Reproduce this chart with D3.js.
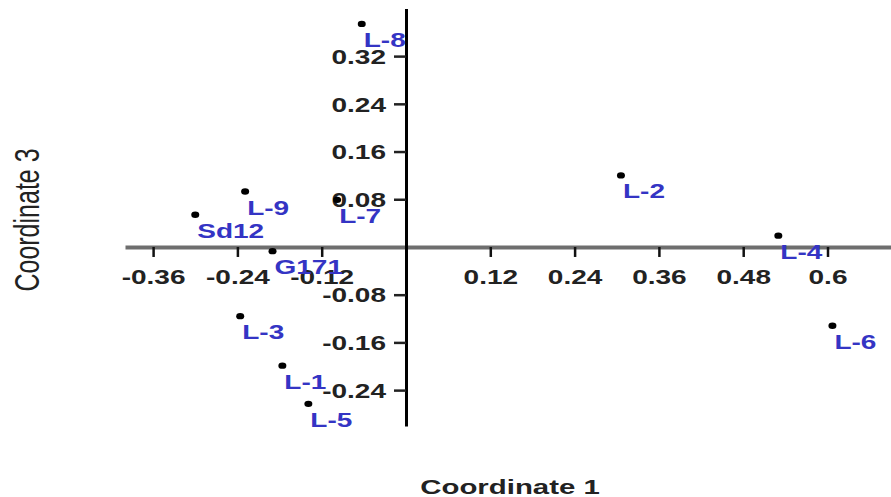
<!DOCTYPE html>
<html>
<head>
<meta charset="utf-8">
<script src="https://cdn.jsdelivr.net/npm/d3@7"></script>
<style>
  html, body { margin: 0; padding: 0; background: #fff; }
  svg { display: block; }
  text { font-family: Arial, "Liberation Sans", sans-serif; }
</style>
</head>
<body>
<svg id="chart" width="891" height="497"></svg>
<script>
// ---- data ----
const names = ["L-8", "L-9", "Sd12", "L-7", "G171", "L-3", "L-1", "L-5", "L-2", "L-4", "L-6"];
const coord1 = [-0.063, -0.229, -0.300, -0.098, -0.190, -0.236, -0.176, -0.139, 0.306, 0.530, 0.607];
const coord3 = [0.374, 0.093, 0.054, 0.079, -0.007, -0.116, -0.199, -0.263, 0.120, 0.019, -0.132];
const xTicks = [-0.36, -0.24, -0.12, 0.12, 0.24, 0.36, 0.48, 0.6];
const xTickLabels = ["-0.36", "-0.24", "-0.12", "0.12", "0.24", "0.36", "0.48", "0.6"];
const yTicks = [0.32, 0.24, 0.16, 0.08, -0.08, -0.16, -0.24];
const yTickLabels = ["0.32", "0.24", "0.16", "0.08", "-0.08", "-0.16", "-0.24"];
const xDomain = [-0.4, 0.7];
const yDomain = [-0.3, 0.4];

const points = names.map((n, i) => ({ name: n, x: coord1[i], y: coord3[i] }));

const SX = 1.4; // horizontal stretch of the reference text
const svg = d3.select("#chart");
const x = d3.scaleLinear().domain(xDomain).range([125, 897.75]);
const y = d3.scaleLinear().domain(yDomain).range([425.9, 8.4]);

// x axis at y = 0
const gx = svg.append("g").attr("transform", `translate(0,${y(0)})`)
  .call(d3.axisBottom(x).tickValues(xTicks).tickSize(10).tickSizeOuter(0)
    .tickFormat((d, i) => xTickLabels[i]));
gx.select(".domain").attr("stroke", "#6e6e6e").attr("stroke-width", 4);
gx.selectAll(".tick line").attr("stroke", "#111").attr("stroke-width", 2.5);
gx.selectAll(".tick text")
  .attr("y", 0).attr("dy", 0)
  .attr("transform", `translate(0,37) scale(${SX},1)`)
  .attr("fill", "#222").attr("font-size", 20).attr("font-weight", "bold")
  .attr("font-family", "Arial, 'Liberation Sans', sans-serif");

// y axis at x = 0
const gy = svg.append("g").attr("transform", `translate(${x(0)},0)`)
  .call(d3.axisLeft(y).tickValues(yTicks).tickSize(12).tickSizeOuter(0)
    .tickFormat((d, i) => yTickLabels[i]));
gy.select(".domain").attr("stroke", "#000").attr("stroke-width", 3);
gy.selectAll(".tick line").attr("stroke", "#222").attr("stroke-width", 2.5);
gy.selectAll(".tick text")
  .attr("x", 0).attr("dy", "0.36em")
  .attr("transform", `translate(-20,0) scale(${SX},1)`)
  .attr("fill", "#222").attr("font-size", 20).attr("font-weight", "bold")
  .attr("font-family", "Arial, 'Liberation Sans', sans-serif");

// points
svg.append("g").selectAll("ellipse").data(points).join("ellipse")
  .attr("cx", d => x(d.x)).attr("cy", d => y(d.y))
  .attr("rx", 4).attr("ry", 3.2).attr("fill", "#000");

// labels
svg.append("g").selectAll("text").data(points).join("text")
  .attr("transform", d => `translate(${x(d.x) + 2},${y(d.y) + 23}) scale(${SX},1)`)
  .attr("fill", "#3434c4").attr("font-size", 20).attr("font-weight", "bold")
  .text(d => d.name);

// axis titles
svg.append("text")
  .attr("transform", `translate(510,494) scale(${SX},1)`)
  .attr("text-anchor", "middle").attr("font-size", 21).attr("font-weight", "bold")
  .attr("fill", "#222").text("Coordinate 1");

svg.append("text")
  .attr("transform", `translate(26,220) scale(${SX},1) rotate(-90)`)
  .attr("text-anchor", "middle").attr("dy", "0.36em").attr("font-size", 25)
  .attr("fill", "#222").text("Coordinate 3");
</script>
</body>
</html>
